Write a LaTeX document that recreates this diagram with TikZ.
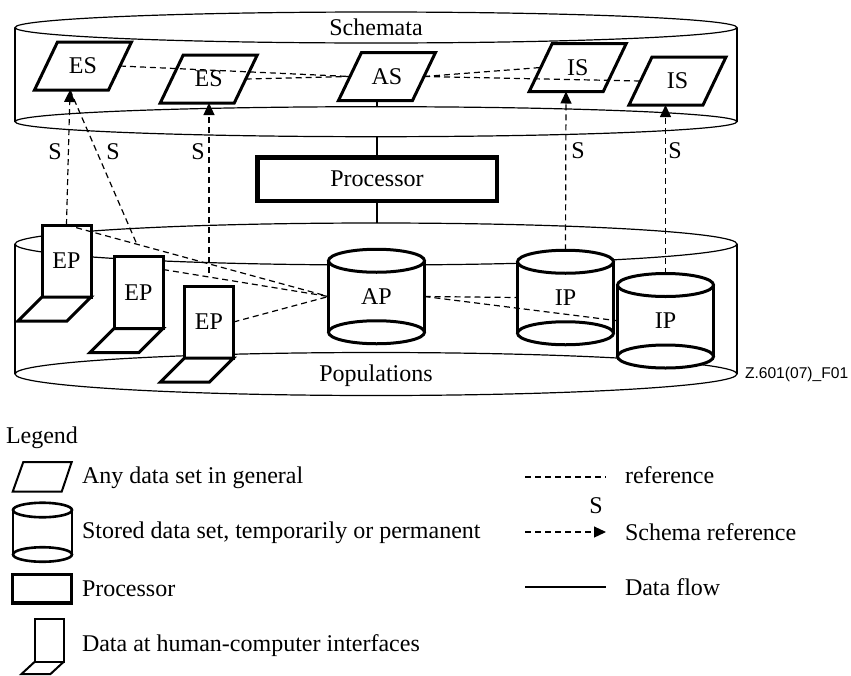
\documentclass[tikz,border=0pt]{standalone}
\usepackage{fontspec}
\setmainfont{Liberation Serif}
\newfontfamily\arialfont{Liberation Sans}
\usetikzlibrary{arrows.meta,calc}
\tikzset{
 bg/.style={line width=0.6pt},
 heavy/.style={line width=1.5pt, line join=miter},
 ref/.style={line width=0.6pt, dash pattern=on 3pt off 2pt},
 sref/.style={ref, -{Triangle[length=6pt,width=5.5pt]}},
 lbl/.style={inner sep=0pt, outer sep=0pt},
 pgnode/.style={inner sep=0pt, outer sep=0pt, minimum width=37pt, minimum height=24pt},
 cylnode/.style={inner sep=0pt, outer sep=0pt, minimum width=48pt, minimum height=47.25pt},
 epnode/.style={draw, fill=white, heavy, inner sep=0pt, outer sep=0pt, minimum width=24.5pt, minimum height=36pt},
}
\newcommand\pgramsym[3]{%
  \node[pgnode] (#1) at (#2) {#3};
  \draw[heavy] ($(#1.center)+(-48.5,24)$) -- ++(74,0) -- ++(23,-48) -- ++(-74,0) -- cycle;
}
\newcommand\cylsym[3]{%
  \begin{scope}[shift={(#2)}]
   \fill[white] (-48,-35.75) rectangle (48,35.75);
   \fill[white] (0,35.75) ellipse [x radius=24pt, y radius=5.75pt];
   \fill[white] (0,-35.75) ellipse [x radius=24pt, y radius=5.75pt];
   \draw[heavy] (0,-35.75) ellipse [x radius=24pt, y radius=5.75pt];
   \draw[heavy] (0,35.75) ellipse [x radius=24pt, y radius=5.75pt];
   \draw[heavy] (-48,-35.75) -- (-48,35.75) (48,-35.75) -- (48,35.75);
  \end{scope}
  \node[cylnode] (#1) at (#2) {#3};
}
\newcommand\epsym[3]{%
  \node[epnode] (#1) at (#2) {#3};
  \filldraw[heavy, fill=white] (#1.south west) -- ++(-24,24) -- ++(49,0) -- (#1.south east) -- cycle;
}
\begin{document}
\begin{tikzpicture}[x=0.5pt,y=-0.5pt, font=\fontsize{12pt}{14pt}\selectfont]
\useasboundingbox (0,0) rectangle (851,675);

% background cylinders
\draw[bg] (376,27.5) ellipse [x radius=180.5pt, y radius=7.75pt];
\draw[bg] (376,121.7) ellipse [x radius=180.5pt, y radius=7.5pt];
\draw[bg] (15,27.5) -- (15,121.7) (737,27.5) -- (737,121.7);
\draw[bg] (376,244) ellipse [x radius=180.5pt, y radius=10.5pt];
\draw[bg] (376,374) ellipse [x radius=180.5pt, y radius=10.75pt];
\draw[bg] (15,244) -- (15,374) (737,244) -- (737,374);

\node[lbl, anchor=base] (schem) at (376,35) {Schemata};
\node[lbl, anchor=base] (popul) at (376,381) {Populations};
\node[lbl, anchor=base west, font=\arialfont\fontsize{7.8pt}{9pt}\selectfont] (fig) at (745,378) {Z.601(07)\_F01};

% processor and data flow
\node[draw, line width=2.25pt, inner sep=0pt, outer sep=0pt, minimum width=119.75pt, minimum height=21.75pt] (proc) at (377,179) {Processor};
\coordinate (asb) at (377,100.5);
\coordinate (asfloor) at (377,106.7);
\coordinate (sfront) at (377,137);
\coordinate (ptop) at (377,223);
\draw[bg] (asb) -- (asfloor);
\draw[bg] (proc.north) -- (sfront);
\draw[bg] (proc.south) -- (ptop);

% schemata
\pgramsym{es1}{83,66}{ES}
\pgramsym{es2}{208.75,79}{ES}
\pgramsym{as}{387,76.5}{AS}
\pgramsym{is1}{577.75,67.5}{IS}
\pgramsym{is2}{677.5,81}{IS}

% populations
\epsym{ep1}{66.5,261}{EP}
\epsym{ep2}{138.5,292.5}{EP}
\epsym{ep3}{209,322}{EP}
\cylsym{ap}{376.5,296.5}{AP}
\cylsym{ip1}{565.5,297.5}{IP}
\cylsym{ip2}{665.5,320.75}{IP}

% references
\draw[ref] (es1.east) -- (as.west);
\draw[ref] (es2.east) -- (as.west);
\draw[ref] (as.east) -- (is1.west);
\draw[ref] (as.east) -- (is2.west);
\draw[ref] (ep1.north) -- (ap.west);
\draw[ref] ($(ep2.north east)+(0,13)$) -- (ap.west);
\draw[ref] (ep3.east) -- (ap.west);
\draw[ref] (ap.east) -- (ip1.west);
\draw[ref] (ap.east) -- (ip2.west);

% schema references
\coordinate (es1s) at ($(es1.south)+(-13,0)$);
\coordinate (l2end) at (137,244.5);
\coordinate (es2s) at (209,103);
\coordinate (es2low) at (209,273);
\coordinate (is1s) at (566,91.5);
\coordinate (is2s) at (665.5,105);
\draw[sref] (ep1.north) -- (es1s);
\draw[ref] (es1s) -- (l2end);
\draw[sref] (es2low) -- (es2s);
\draw[sref] (ip1.north) -- (is1s);
\draw[sref] (ip2.north) -- (is2s);
\node[lbl, anchor=base] (s1) at (55,159) {S};
\node[lbl, anchor=base] (s2) at (113,159) {S};
\node[lbl, anchor=base] (s3) at (198,159) {S};
\node[lbl, anchor=base] (s4) at (578,158) {S};
\node[lbl, anchor=base] (s5) at (675,158) {S};

% legend
\node[lbl, anchor=base west] (legend) at (6,443) {Legend};
\draw[line width=1pt, line join=miter] (12.7,491.7) -- (61.7,491.7) -- (71.7,462) -- (23.3,462) -- cycle;
\node[lbl, anchor=base west] (lg1) at (82,483) {Any data set in general};
\draw[line width=1.3pt] (42.5,510) ellipse [x radius=14.75pt, y radius=3.625pt];
\draw[line width=1.3pt] (42.5,554.5) ellipse [x radius=14.75pt, y radius=3.625pt];
\draw[line width=1.3pt] (13,510) -- (13,554.5) (72,510) -- (72,554.5);
\node[lbl, anchor=base west] (lg2) at (82,538) {Stored data set, temporarily or permanent};
\draw[line width=1.75pt] (12.5,574.5) rectangle (71.5,603);
\node[lbl, anchor=base west] (lg3) at (82,596) {Processor};
\draw[line width=1pt, line join=miter] (35,661.5) -- (35,618.5) -- (64,618.5) -- (64,661.5) -- cycle;
\draw[line width=1pt, line join=miter] (35,661.5) -- (21.5,674) -- (50.5,674) -- (64,661.5);
\node[lbl, anchor=base west] (lg4) at (82,651) {Data at human-computer interfaces};

\coordinate (r1a) at (525,477); \coordinate (r1b) at (606,477);
\coordinate (r2a) at (525,532); \coordinate (r2b) at (606,532);
\coordinate (r3a) at (525,587); \coordinate (r3b) at (606,587);
\draw[ref] (r1a) -- (r1b);
\draw[sref] (r2a) -- (r2b);
\draw[bg] (r3a) -- (r3b);
\node[lbl, anchor=base] (ls) at (596,513) {S};
\node[lbl, anchor=base west] (lr1) at (625,483) {reference};
\node[lbl, anchor=base west] (lr2) at (625,540) {Schema reference};
\node[lbl, anchor=base west] (lr3) at (625,595) {Data flow};
\end{tikzpicture}
\end{document}
